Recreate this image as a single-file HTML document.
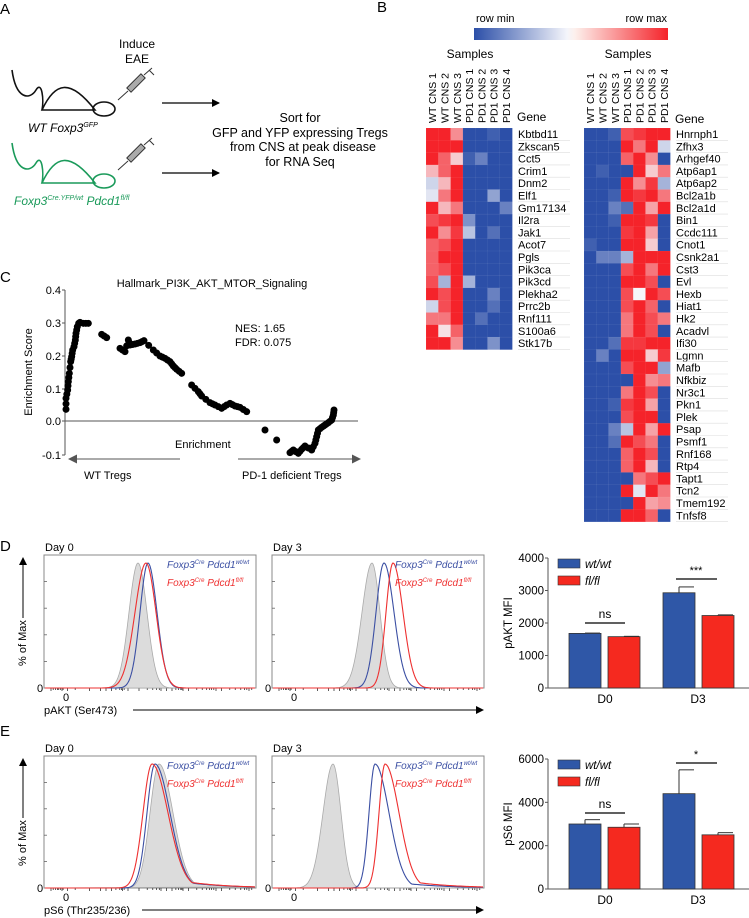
<!DOCTYPE html>
<html><head><meta charset="utf-8"><style>
html,body{margin:0;padding:0;background:#fff}
svg{display:block;font-family:"Liberation Sans",Arial,sans-serif}
</style></head><body>
<svg id="s" width="749" height="918" viewBox="0 0 749 918" xmlns="http://www.w3.org/2000/svg">
<defs>
<linearGradient id="cb" x1="0" x2="1" y1="0" y2="0">
<stop offset="0" stop-color="#2c4fa8"/><stop offset="0.48" stop-color="#f4f5fb"/><stop offset="0.52" stop-color="#fdf0ec"/><stop offset="1" stop-color="#f5232a"/></linearGradient>
<marker id="ah" markerWidth="8" markerHeight="8" refX="7" refY="4" orient="auto" markerUnits="userSpaceOnUse"><path d="M0,0 L8,4 L0,8 z" fill="#000"/></marker>
<marker id="ahg" markerWidth="9" markerHeight="9" refX="8" refY="4.5" orient="auto" markerUnits="userSpaceOnUse"><path d="M0,0 L9,4.5 L0,9 z" fill="#555"/></marker>
</defs>
<!-- Panel A -->
<text x="0" y="14" font-size="15">A</text>
<text x="137" y="48" font-size="12" text-anchor="middle">Induce</text>
<text x="137" y="63" font-size="12" text-anchor="middle">EAE</text>
<g fill="none" stroke="#111" stroke-width="1.6">
<path d="M12,70 C16,100 30,100 36,90 C42,80 44,100 42,110"/>
<path d="M42,110 C55,82 70,78 95,110 Z"/>
<ellipse cx="104" cy="109" rx="11" ry="7"/>
</g>
<g fill="none" stroke="#1a9a5a" stroke-width="1.6">
<path d="M12,143 C16,173 30,173 36,163 C42,153 44,173 42,183"/>
<path d="M42,183 C55,155 70,151 95,183 Z"/>
<ellipse cx="104" cy="181" rx="11" ry="7"/>
</g>
<g stroke="#333" stroke-width="1"><path d="M118,100 L128,91"/><rect x="126" y="80" width="20" height="6" transform="rotate(-45 136 83)" fill="#aaa"/><path d="M144,75 L152,68 M149,70 L154,75"/></g>
<g stroke="#333" stroke-width="1"><path d="M118,170 L128,161"/><rect x="126" y="150" width="20" height="6" transform="rotate(-45 136 153)" fill="#aaa"/><path d="M144,145 L152,138 M149,140 L154,145"/></g>
<text x="28" y="132" font-size="12" font-style="italic">WT Foxp3<tspan font-size="7" dy="-5">GFP</tspan></text>
<text x="14" y="205" font-size="12" font-style="italic" fill="#1a9a5a">Foxp3<tspan font-size="7" dy="-5">Cre.YFP/wt</tspan><tspan dy="5"> Pdcd1</tspan><tspan font-size="7" dy="-5">fl/fl</tspan></text>
<line x1="162" y1="103" x2="219" y2="103" stroke="#000" stroke-width="1.2" marker-end="url(#ah)"/>
<line x1="162" y1="173" x2="219" y2="173" stroke="#000" stroke-width="1.2" marker-end="url(#ah)"/>
<g font-size="12.5" text-anchor="middle"><text x="300" y="122">Sort for</text><text x="300" y="137">GFP and YFP expressing Tregs</text><text x="303" y="151">from CNS at peak disease</text><text x="300" y="166">for RNA Seq</text></g>
<!-- Panel B -->
<text x="377" y="12" font-size="15">B</text>
<rect x="474" y="28" width="194" height="12" fill="url(#cb)"/>
<text x="476" y="22" font-size="11">row min</text>
<text x="667" y="22" font-size="11" text-anchor="end">row max</text>
<text x="470" y="58" font-size="12" text-anchor="middle">Samples</text>
<text x="628" y="58" font-size="12" text-anchor="middle">Samples</text>
<g font-size="10.5" id="collabs"></g>
<text x="517" y="121" font-size="12">Gene</text>
<text x="675" y="123" font-size="12">Gene</text>
<g id="hm"></g>
<g id="gl" font-size="11"></g>
<!-- Panel C -->
<text x="0" y="282" font-size="15">C</text>
<text x="212" y="287" font-size="11" text-anchor="middle">Hallmark_PI3K_AKT_MTOR_Signaling</text>
<g stroke="#555" stroke-width="1"><line x1="65" y1="290" x2="65" y2="455"/><line x1="62" y1="290" x2="65" y2="290"/><line x1="62" y1="323" x2="65" y2="323"/><line x1="62" y1="356" x2="65" y2="356"/><line x1="62" y1="389" x2="65" y2="389"/><line x1="62" y1="421" x2="65" y2="421"/><line x1="62" y1="455" x2="65" y2="455"/><line x1="65" y1="421" x2="358" y2="421"/></g>
<g font-size="11" text-anchor="end"><text x="61" y="294">0.4</text><text x="61" y="327">0.3</text><text x="61" y="360">0.2</text><text x="61" y="393">0.1</text><text x="61" y="425">0.0</text><text x="61" y="459">-0.1</text></g>
<text transform="translate(32,372) rotate(-90)" font-size="11" text-anchor="middle">Enrichment Score</text>
<text x="235" y="332" font-size="11">NES: 1.65</text>
<text x="235" y="346" font-size="11">FDR: 0.075</text>
<text x="175" y="448" font-size="11">Enrichment</text>
<line x1="180" y1="459" x2="69" y2="459" stroke="#555" stroke-width="1" marker-end="url(#ahg)"/>
<line x1="238" y1="459" x2="360" y2="459" stroke="#555" stroke-width="1" marker-end="url(#ahg)"/>
<text x="84" y="479" font-size="11">WT Tregs</text>
<text x="242" y="479" font-size="11">PD-1 deficient Tregs</text>
<g id="dots" fill="#000"></g>
<!-- Panel D -->
<text x="0" y="551" font-size="15">D</text>
<text x="0" y="736" font-size="15">E</text>
<g id="hist"></g>
<g id="bars"></g>
</svg>
<script>
var NS="http://www.w3.org/2000/svg";
function el(p,t,a){var e=document.createElementNS(NS,t);for(var k in a)e.setAttribute(k,a[k]);p.appendChild(e);return e;}
function col(v){var b=[44,79,168],w=[246,246,250],r=[245,35,42];var c=[];for(var i=0;i<3;i++){c[i]=v<0.5?b[i]+(w[i]-b[i])*(v/0.5):w[i]+(r[i]-w[i])*((v-0.5)/0.5);}return "rgb("+c.map(Math.round).join(",")+")";}
var L=[["Kbtbd11",[1,1,.75,0,0,.05,0]],["Zkscan5",[1,1,1,0,0,0,0]],["Cct5",[1,.85,.6,.05,.15,0,0]],["Crim1",[.65,.85,1,0,0,0,0]],["Dnm2",[.4,.65,1,0,0,0,0]],["Elf1",[.45,.8,1,0,0,.25,0]],["Gm17134",[1,.65,.8,0,0,0,.15]],["Il2ra",[.9,.95,1,.2,0,0,0]],["Jak1",[1,.75,.95,.35,0,.1,0]],["Acot7",[.85,.9,1,0,0,0,0]],["Pgls",[.85,1,1,0,0,0,0]],["Pik3ca",[.85,.9,1,0,0,0,0]],["Pik3cd",[.9,.3,1,.3,0,0,0]],["Plekha2",[1,.9,1,0,0,.15,0]],["Prrc2b",[.4,.9,1,0,0,.1,0]],["Rnf111",[.8,.8,1,0,.1,0,0]],["S100a6",[1,.55,.85,0,0,0,0]],["Stk17b",[1,1,.75,0,0,.2,0]]];
var R=[["Hnrnph1",[0,0,.05,.9,.95,1,1]],["Zfhx3",[0,0,0,1,.8,1,.4]],["Arhgef40",[0,0,0,.85,1,.75,0]],["Atp6ap1",[0,.05,0,0,1,.6,.8]],["Atp6ap2",[0,0,0,1,.75,.95,.3]],["Bcl2a1b",[0,0,.05,1,.95,1,.8]],["Bcl2a1d",[0,0,.15,.1,1,.7,1]],["Bin1",[0,0,.05,1,1,.95,0]],["Ccdc111",[0,0,0,.95,1,.7,0]],["Cnot1",[.05,0,0,1,1,.6,0]],["Csnk2a1",[0,.15,.15,.3,1,1,1]],["Cst3",[0,0,0,.9,1,.8,1]],["Evl",[0,0,0,1,1,.9,0]],["Hexb",[0,0,0,.9,.5,1,.9]],["Hiat1",[0,0,0,.9,1,.85,0]],["Hk2",[0,0,0,.8,1,.9,.8]],["Acadvl",[0,0,0,.8,1,.9,0]],["Ifi30",[0,0,.1,.95,.95,1,1]],["Lgmn",[0,.15,0,1,1,.6,.95]],["Mafb",[0,0,0,.9,1,1,.25]],["Nfkbiz",[0,0,0,0,1,.75,.8]],["Nr3c1",[0,0,0,.8,1,.9,0]],["Pkn1",[0,0,.05,.95,1,.7,0]],["Plek",[0,0,0,.9,1,1,0]],["Psap",[0,0,.15,.35,1,.7,1]],["Psmf1",[0,0,.1,1,.9,.8,0]],["Rnf168",[0,0,0,.85,1,.9,0]],["Rtp4",[0,0,0,.85,1,.65,0]],["Tapt1",[0,0,0,0,.8,.9,1]],["Tcn2",[0,0,0,1,.45,1,.8]],["Tmem192",[0,0,0,0,1,.7,.75]],["Tnfsf8",[0,0,0,1,1,.85,0]]];
var hm=document.getElementById("hm"),gl=document.getElementById("gl"),cl=document.getElementById("collabs");
var cols=["WT CNS 1","WT CNS 2","WT CNS 3","PD1 CNS 1","PD1 CNS 2","PD1 CNS 3","PD1 CNS 4"];
function heat(D,x0,gx){var cw=12.3,rh=12.3;D.forEach(function(r,i){r[1].forEach(function(v,j){el(hm,"rect",{x:x0+j*cw,y:128+i*rh,width:cw+0.3,height:rh+0.3,fill:col(v),stroke:"rgba(255,255,255,0.12)","stroke-width":0.4});});var t=el(gl,"text",{x:gx,y:128+i*rh+10});t.textContent=r[0];el(gl,"line",{x1:gx,x2:gx+52,y1:128+(i+1)*rh,y2:128+(i+1)*rh,stroke:"#ddd","stroke-width":0.6});});
cols.forEach(function(c,j){var x=x0+j*cw+cw/2+4;var t=el(cl,"text",{transform:"translate("+x+",123) rotate(-90)"});t.textContent=c;});}
heat(L,426,518);heat(R,584,676);
var P=[[198,358],[198,325],[203,300],[205,275],[208,250],[212,215],[215,200],[218,180],[222,170],[226,150],[228,130],[232,110],[236,100],[240,97],[250,100],[265,100],[305,133],[320,143],[360,175],[375,185],[385,150],[390,165],[405,162],[420,158],[432,152],[460,180],[480,198],[495,205],[510,215],[520,228],[530,238],[545,250],[575,285],[595,305],[605,318],[630,338],[645,345],[665,355],[680,345],[690,340],[705,348],[720,352],[740,365],[795,420],[830,450],[870,488],[880,480],[895,490],[905,478],[915,468],[935,480],[945,460],[950,440],[955,420],[965,412],[975,405],[985,398],[995,390],[1000,375],[1002,360]];
var dg=document.getElementById("dots");
for(var i=0;i<P.length;i++){var x=P[i][0]/3,y=290+P[i][1]/3;el(dg,"circle",{cx:x,cy:y,r:3.5});
 if(i<P.length-1){var nx=P[i+1][0]/3,ny=290+P[i+1][1]/3;var d=Math.hypot(nx-x,ny-y);if(d<14&&d>4){el(dg,"circle",{cx:(x+nx)/2,cy:(y+ny)/2,r:3.5});}}}
var hg=document.getElementById("hist");
function curve(cx,sl,sr,top,base,x0,x1,tail){var pts=[];for(var x=x0;x<=x1;x+=1){var s=x<cx?sl:sr;var v=Math.exp(-Math.pow((x-cx)/s,2)/2);if(tail&&x>cx)v=Math.max(v,tail*Math.exp(-(x-cx)/40));pts.push([x,base-(base-top)*v]);}return pts;}
function pth(pts){return "M"+pts.map(function(p){return p[0].toFixed(1)+","+p[1].toFixed(1)}).join(" L");}
function box(x,y,w,h,title,xl,D){el(hg,"rect",{x:x,y:y,width:w,height:h,fill:"none",stroke:"#888","stroke-width":1});var t=el(hg,"text",{x:x+1,y:y-4,"font-size":11});t.textContent=title;
 for(var k=1;k<5;k++)el(hg,"line",{x1:x,x2:x+3,y1:y+h-k*h/5,y2:y+h-k*h/5,stroke:"#666","stroke-width":0.8});
 var ticks=[0,4,8,12,14,17,20,22,30,44,70,90,100,110,118,125,128,130,133,140,160,175,185,192,197,200,210,220,227,232,236,238,240,250,265,275,283,288,292,296,300,310,325,335,345,352,356,360,365];
 ticks.forEach(function(tt){var tx=x+7+tt*0.55;if(tx<x+w-2)el(hg,"line",{x1:tx,x2:tx,y1:y+h,y2:y+h+(tt%10==0?3:2),stroke:"#333","stroke-width":0.8});});
 var z=el(hg,"text",{x:x-7,y:y+h+4,"font-size":11});z.textContent="0";var z2=el(hg,"text",{x:x+19,y:y+h+13,"font-size":11});z2.textContent="0";
 var g=D[0],b=D[1],r=D[2];
 var gp=curve(g[0],g[1],g[2],y+8,y+h,x+1,x+w-1,g[3]);el(hg,"path",{d:pth(gp)+" Z",fill:"#dcdcdc",stroke:"#aaa","stroke-width":0.8});
 el(hg,"path",{d:pth(curve(b[0],b[1],b[2],y+8,y+h,x+1,x+w-1,b[3])),fill:"none",stroke:"#3b4fa3","stroke-width":1.1});
 el(hg,"path",{d:pth(curve(r[0],r[1],r[2],y+8,y+h,x+1,x+w-1,r[3])),fill:"none",stroke:"#ee3030","stroke-width":1.1});
 var a=el(hg,"text",{x:x+123,y:y+13,"font-size":10,"font-style":"italic",fill:"#3b4fa3"});a.innerHTML='Foxp3<tspan font-size="6" dy="-4">Cre</tspan><tspan dy="4"> Pdcd1</tspan><tspan font-size="6" dy="-4">wt/wt</tspan>';
 var c=el(hg,"text",{x:x+123,y:y+31,"font-size":10,"font-style":"italic",fill:"#ee3030"});c.innerHTML='Foxp3<tspan font-size="6" dy="-4">Cre</tspan><tspan dy="4"> Pdcd1</tspan><tspan font-size="6" dy="-4">fl/fl</tspan>';
}
function hpanel(y,h,xl,D0,D3){box(44,y,212,h,"Day 0",xl,D0);box(272,y,212,h,"Day 3",xl,D3);
 var t=el(hg,"text",{transform:"translate(26,"+(y+h-22)+") rotate(-90)","font-size":11});t.textContent="% of Max";
 el(hg,"line",{x1:23,y1:y+h-70,x2:23,y2:y+3,stroke:"#000","stroke-width":1,"marker-end":"url(#ah)"});
 var xt=el(hg,"text",{x:44,y:y+h+26,"font-size":11});xt.textContent=xl;
 el(hg,"line",{x1:xl.length>14?142:133,y1:y+h+22,x2:483,y2:y+h+22,stroke:"#000","stroke-width":1,"marker-end":"url(#ah)"});}
hpanel(555,133,"pAKT (Ser473)",[[138,9,9,0],[148,8,9,0],[146,11,10,0]],[[372,10,8,0],[384,8,10,0],[393,7,10,0]]);
hpanel(756,132,"pS6 (Thr235/236)",[[159,9,14,0.1],[155,8,15,0.1],[152,9,16,0.12]],[[333,10,8,0],[375,6,14,0.08],[385,6,14,0.1]]);
var bg=document.getElementById("bars");
function bars(top,bot,max,step,lab,vals,ns,star,sy,ny){var ax=548;var sc=(bot-top)/max;
 el(bg,"line",{x1:ax,y1:top,x2:ax,y2:bot,stroke:"#555"});el(bg,"line",{x1:ax,y1:bot,x2:749,y2:bot,stroke:"#555"});
 for(var v=0;v<=max;v+=step){var yy=bot-v*sc;el(bg,"line",{x1:ax-3,x2:ax,y1:yy,y2:yy,stroke:"#555"});var t=el(bg,"text",{x:ax-4,y:yy+4,"font-size":11.5,"text-anchor":"end"});t.textContent=v;}
 var xs=[569,608,663,702];vals.forEach(function(vv,i){var yy=bot-vv[0]*sc;var cx=xs[i]+16;
  if(vv[1]>vv[0]){el(bg,"line",{x1:cx,x2:cx,y1:bot-vv[1]*sc,y2:yy,stroke:"#333"});el(bg,"line",{x1:cx-0,x2:cx+15,y1:bot-vv[1]*sc,y2:bot-vv[1]*sc,stroke:"#333"});}
  el(bg,"rect",{x:xs[i],y:yy,width:32,height:bot-yy,fill:i%2?"#f5291f":"#2f57a7",stroke:"#333","stroke-width":0.8});});
 el(bg,"line",{x1:585,x2:625,y1:ny,y2:ny,stroke:"#000","stroke-width":1.2});var n=el(bg,"text",{x:605,y:ny-5,"font-size":12,"text-anchor":"middle"});n.textContent="ns";
 el(bg,"line",{x1:676,x2:717,y1:sy,y2:sy,stroke:"#000","stroke-width":1.2});var s=el(bg,"text",{x:696,y:sy-5,"font-size":11,"text-anchor":"middle"});s.textContent=star;
 el(bg,"rect",{x:558,y:top+1,width:22,height:9,fill:"#2f57a7",stroke:"#333","stroke-width":0.6});el(bg,"rect",{x:558,y:top+18,width:22,height:9,fill:"#f5291f",stroke:"#333","stroke-width":0.6});
 var w1=el(bg,"text",{x:585,y:top+10,"font-size":11.5,"font-style":"italic"});w1.textContent="wt/wt";var w2=el(bg,"text",{x:585,y:top+27,"font-size":11.5,"font-style":"italic"});w2.textContent="fl/fl";
 var yl=el(bg,"text",{transform:"translate(512,"+((top+bot)/2)+") rotate(-90)","font-size":11.5,"text-anchor":"middle"});yl.textContent=lab;
 var d0=el(bg,"text",{x:605,y:bot+15,"font-size":12,"text-anchor":"middle"});d0.textContent="D0";var d3=el(bg,"text",{x:698,y:bot+15,"font-size":12,"text-anchor":"middle"});d3.textContent="D3";}
bars(558,688,4000,1000,"pAKT MFI",[[1680,1690],[1580,1590],[2930,3110],[2230,2250]],"ns","***",579,623);
bars(759,889,6000,2000,"pS6 MFI",[[3000,3200],[2850,3000],[4400,5500],[2500,2600]],"ns","*",763,813);
</script>
</body></html>
